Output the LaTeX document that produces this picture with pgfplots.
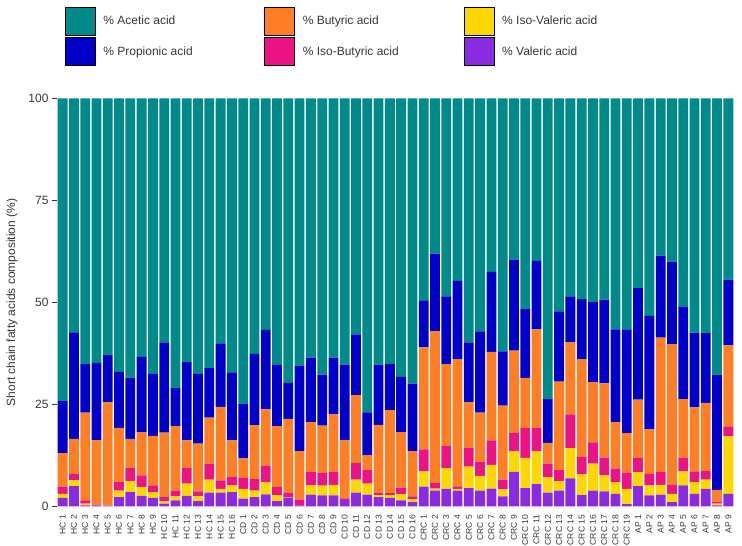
\documentclass[border=0pt]{standalone}
\usepackage{pgfplots}
\pgfplotsset{compat=1.18}
\usepackage{pgfplotstable}
\usepackage{fontspec}
\setmainfont{Liberation Sans}
\definecolor{cA}{RGB}{0,138,138}
\definecolor{cP}{RGB}{0,0,200}
\definecolor{cB}{RGB}{255,127,39}
\definecolor{cIB}{RGB}{236,20,132}
\definecolor{cIV}{RGB}{255,215,0}
\definecolor{cV}{RGB}{138,43,226}
\definecolor{txt}{RGB}{55,55,55}
\pgfplotsset{sq/.style={legend image code/.code={\fill[##1] (0pt,-14pt) rectangle (30pt,14pt);}}}

% x = bar index, V = Valeric, IV = Iso-Valeric, IB = Iso-Butyric, B = Butyric, P = Propionic, A = Acetic (%)
\pgfplotstableread{
x V IV IB B P A
0 2.1 1.0 1.8 8.2 12.7 74.2
1 5.0 1.4 1.6 8.6 26.1 57.3
2 0.3 0.4 0.8 21.5 11.9 65.1
3 0.3 0.05 0.1 15.75 19.0 64.8
4 0.2 0.05 0.05 25.2 11.6 62.9
5 2.3 1.6 2.1 13.3 13.7 67.0
6 3.5 2.7 3.2 7.2 15.0 68.4
7 2.6 2.2 2.8 10.6 18.5 63.3
8 2.1 1.4 1.7 12.1 15.2 67.5
9 0.7 0.6 1.0 15.8 22.1 59.8
10 1.5 1.0 1.4 15.8 9.3 71.0
11 2.6 3.0 3.8 6.8 19.2 64.6
12 1.3 1.2 1.2 11.7 17.1 67.5
13 3.4 3.2 3.9 11.3 12.1 66.1
14 3.4 0.9 2.1 18.0 15.6 60.0
15 3.5 1.7 2.0 9.0 16.7 67.1
16 1.9 2.4 2.7 4.8 13.3 74.9
17 2.3 1.6 2.8 13.2 17.5 62.6
18 3.0 2.9 4.1 13.8 19.5 56.7
19 1.3 1.5 2.0 14.9 15.0 65.3
20 2.1 0.1 1.1 18.2 8.8 69.7
21 0.3 0.0 1.4 11.9 20.8 65.6
22 2.9 2.3 3.2 12.3 15.8 63.5
23 2.7 2.4 3.1 11.6 12.5 67.7
24 2.7 2.6 3.1 14.2 13.9 63.5
25 1.6 0.0 0.4 14.2 18.6 65.2
26 3.4 3.2 4.1 16.6 14.9 57.8
27 2.9 2.7 3.3 3.7 10.5 76.9
28 2.3 0.5 0.5 16.7 14.8 65.2
29 2.1 0.7 0.5 20.3 11.3 65.1
30 1.5 1.5 1.6 13.6 13.6 68.2
31 1.1 0.7 0.7 11.1 16.5 69.9
32 4.9 3.7 5.4 25.0 11.5 49.5
33 3.9 0.5 1.3 37.3 19.0 38.0
34 4.3 5.1 5.4 20.1 16.6 48.5
35 3.9 0.4 0.5 31.3 19.2 44.7
36 4.5 5.3 4.5 11.2 14.7 59.8
37 3.9 3.6 3.4 12.1 19.9 57.1
38 4.4 5.8 6.0 21.7 19.6 42.5
39 2.5 1.7 2.4 18.1 13.3 62.0
40 8.5 5.0 4.5 20.2 22.3 39.5
41 4.5 7.4 7.3 12.3 16.9 51.6
42 5.5 8.0 5.7 24.2 16.8 39.8
43 3.4 3.8 3.3 5.1 10.7 73.7
44 3.9 2.3 2.7 21.7 17.2 52.2
45 6.9 7.4 8.3 17.6 11.3 48.5
46 2.8 5.1 4.2 24.0 14.7 49.2
47 3.9 6.6 5.2 14.8 19.6 49.9
48 3.7 3.9 4.4 18.2 20.5 49.3
49 3.1 2.8 3.4 11.4 22.7 56.6
50 0.6 3.7 4.0 9.7 25.4 56.6
51 5.0 3.4 3.5 14.3 27.3 46.5
52 2.7 2.5 2.8 10.9 27.8 53.3
53 2.9 2.4 3.1 33.0 20.1 38.5
54 1.1 2.0 2.2 34.5 20.2 40.0
55 5.2 3.4 3.4 14.3 22.6 51.1
56 3.1 2.9 2.6 15.7 18.3 57.4
57 4.3 2.3 2.1 16.7 17.1 57.5
58 0.3 0.4 0.5 2.9 28.1 67.8
59 3.1 14.1 2.3 20.0 16.1 44.4
}\data

\begin{document}
\begin{tikzpicture}
\path[use as bounding box] (-57pt,-39.5pt) rectangle (685pt,506.5pt);
\begin{axis}[
  at={(0pt,0pt)}, anchor=south west,
  scale only axis, width=677pt, height=408pt,
  ybar stacked, bar width=9.8pt,
  xmin=-0.5, xmax=59.5, ymin=0, ymax=100,
  enlarge x limits=false,
  ytick={0,25,50,75,100},
  xtick={0,...,59},
  xticklabels={HC 1,HC 2,HC 3,HC 4,HC 5,HC 6,HC 7,HC 8,HC 9,HC 10,HC 11,HC 12,HC 13,HC 14,HC 15,HC 16,
    CD 1,CD 2,CD 3,CD 4,CD 5,CD 6,CD 7,CD 8,CD 9,CD 10,CD 11,CD 12,CD 13,CD 14,CD 15,CD 16,
    CRC 1,CRC 2,CRC 3,CRC 4,CRC 5,CRC 6,CRC 7,CRC 8,CRC 9,CRC 10,CRC 11,CRC 12,CRC 13,CRC 14,CRC 15,CRC 16,CRC 17,CRC 18,CRC 19,
    AP 1,AP 2,AP 3,AP 4,AP 5,AP 6,AP 7,AP 8,AP 9},
  axis line style={draw=none},
  ytick pos=left, tick align=outside, major tick length=5pt,
  ytick style={draw=txt, line width=0.6pt},
  xtick style={draw=none},
  /pgf/number format/assume math mode=true,
  yticklabel style={font=\fontsize{12}{12}\selectfont, text=txt},
  xticklabel style={rotate=90, anchor=east, font=\fontsize{8.5}{9}\selectfont, text=txt},
  ylabel={Short chain fatty acids composition (\%)},
  ylabel style={at={(axis description cs:-0.0665,0.5)}, anchor=center, font=\fontsize{12}{12}\selectfont, text=txt},
  legend columns=3,
  legend style={at={(axis description cs:0.01182,1.22426)}, anchor=north west,
    draw=none, fill=none, inner sep=0pt, outer sep=0pt,
    column sep=8pt, row sep=2pt,
    nodes={inner sep=0pt, text=txt, font=\fontsize{12}{12}\selectfont}},
  legend cell align=left,
]
\addlegendimage{sq, fill=cA}
\addlegendentry{\makebox[153pt][l]{\% Acetic acid}}
\addlegendimage{sq, fill=cB}
\addlegendentry{\makebox[153pt][l]{\% Butyric acid}}
\addlegendimage{sq, fill=cIV}
\addlegendentry{\makebox[153pt][l]{\% Iso-Valeric acid}}
\addlegendimage{sq, fill=cP}
\addlegendentry{\makebox[153pt][l]{\% Propionic acid}}
\addlegendimage{sq, fill=cIB}
\addlegendentry{\makebox[153pt][l]{\% Iso-Butyric acid}}
\addlegendimage{sq, fill=cV}
\addlegendentry{\makebox[153pt][l]{\% Valeric acid}}

\addplot[fill=cV, draw=none, forget plot] table[x=x, y=V] {\data};
\addplot[fill=cIV, draw=none, forget plot] table[x=x, y=IV] {\data};
\addplot[fill=cIB, draw=none, forget plot] table[x=x, y=IB] {\data};
\addplot[fill=cB, draw=none, forget plot] table[x=x, y=B] {\data};
\addplot[fill=cP, draw=none, forget plot] table[x=x, y=P] {\data};
\addplot[fill=cA, draw=none, forget plot] table[x=x, y=A] {\data};
\end{axis}
\end{tikzpicture}
\end{document}
